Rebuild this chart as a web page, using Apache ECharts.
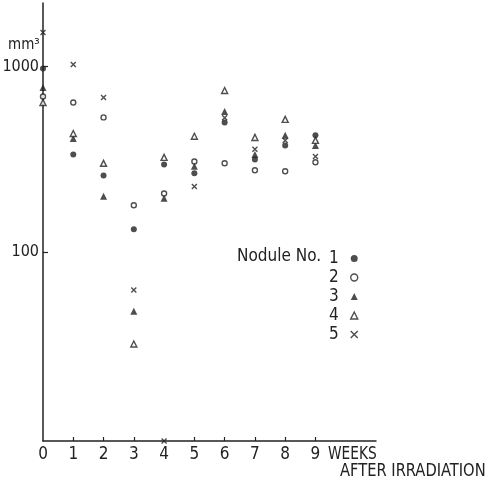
<!DOCTYPE html>
<html>
<head>
<meta charset="utf-8">
<script src="https://cdn.jsdelivr.net/npm/echarts@6/dist/echarts.min.js"></script>
<style>
html,body{margin:0;padding:0;background:#fff;}
#chart{width:486px;height:483px;}
</style>
</head>
<body>
<div id="chart"></div>
<script>
// ---- data (tumour volume, mm^3) ----
var weeks = [0, 1, 2, 3, 4, 5, 6, 7, 8, 9];
var nodule1 = [975, 336, 259, 133, 297, 266, 499, 316, 376, 426];   // ●
var nodule2 = [690, 640, 532, 179, 207, 308, 301, 276, 273, 305];   // ○
var nodule3 = [770, 410, 200, 48, 195, 290, 573, 336, 426, 376];    // ▲
var nodule4 = [640, 436, 301, 32, 324, 421, 743, 415, 519, 400];    // △
var nodule5 = [1525, 1025, 681, 62.5, 9.6, 226, 530, 358, 400, 328]; // × (week 4 on the axis)
var seriesNames = ['1', '2', '3', '4', '5'];
var xTickLabels = [0, 1, 2, 3, 4, 5, 6, 7, 8, 9];
var yTickLabels = [100, 1000];

var FONT = '"DejaVu Sans Condensed", "Liberation Sans Narrow", "Liberation Sans", sans-serif';
var INK = '#222';
var CROSS = 'path://M0,0L10,10M10,0L0,10';

function pts(arr) { return weeks.map(function (w, i) { return [w, arr[i]]; }); }

var styles = [
  { symbol: 'circle', size: 6, itemStyle: { color: INK } },
  { symbol: 'circle', size: 5, itemStyle: { color: '#fff', borderColor: INK, borderWidth: 1.4 } },
  { symbol: 'triangle', size: 7, itemStyle: { color: INK } },
  { symbol: 'triangle', size: 6, itemStyle: { color: '#fff', borderColor: INK, borderWidth: 1.4 } },
  { symbol: CROSS, size: 5, itemStyle: { color: 'none', borderColor: INK, borderWidth: 1.4 } }
];
var dataSets = [nodule1, nodule2, nodule3, nodule4, nodule5];

var series = dataSets.map(function (d, i) {
  return {
    name: seriesNames[i],
    type: 'scatter',
    clip: false,
    symbol: styles[i].symbol,
    symbolSize: styles[i].size,
    itemStyle: styles[i].itemStyle,
    emphasis: { disabled: true },
    data: pts(d),
    z: 5
  };
});

var chart = echarts.init(document.getElementById('chart'), null, { renderer: 'canvas' });
chart.setOption({
  backgroundColor: '#fff',
  animation: false,
  textStyle: { fontFamily: FONT },
  grid: { left: 43, right: 110, top: 3, bottom: 42, containLabel: false, outerBoundsMode: 'none' },
  xAxis: {
    type: 'value', min: 0, max: 11, interval: 1,
    axisLine: { show: true, onZero: false, lineStyle: { color: INK, width: 1.5 } },
    axisTick: { show: true, inside: true, length: 4, customValues: [1, 2, 3, 5, 6, 7, 8, 9], lineStyle: { color: INK, width: 1.2 } },
    axisLabel: { customValues: xTickLabels, color: INK, fontSize: 17, fontFamily: FONT, margin: 5 },
    splitLine: { show: false }
  },
  yAxis: {
    type: 'log', logBase: 10, min: 9.6, max: 2200,
    axisLine: { show: true, onZero: false, lineStyle: { color: INK, width: 1.5 } },
    axisTick: { show: true, inside: true, length: 5, customValues: yTickLabels, lineStyle: { color: INK, width: 1.2 } },
    axisLabel: {
      color: INK, fontSize: 16, fontFamily: FONT, margin: 4,
      showMinLabel: false, showMaxLabel: false,
      formatter: function (v) { var r = Math.round(v); return yTickLabels.indexOf(r) >= 0 ? String(r) : ''; }
    },
    splitLine: { show: false }
  },
  legend: {
    orient: 'vertical', align: 'right',
    left: 324, top: 244,
    itemGap: 0, itemWidth: 7, itemHeight: 7,
    selectedMode: false,
    textStyle: { color: INK, fontSize: 17, fontFamily: FONT, lineHeight: 19, padding: [0, 7, 0, 0] },
    data: seriesNames.map(function (n, i) {
      return { name: n, icon: styles[i].symbol, itemStyle: styles[i].itemStyle };
    })
  },
  graphic: [
    { type: 'text', left: 8, top: 38, style: { text: 'mm³', fill: INK, font: '15px ' + FONT } },
    { type: 'text', left: 237, top: 248, style: { text: 'Nodule No.', fill: INK, font: '17px ' + FONT } },
    { type: 'text', left: 328, top: 446, scaleX: 0.9, style: { text: 'WEEKS', fill: INK, font: '17px ' + FONT } },
    { type: 'text', left: 340, top: 463, scaleX: 0.96, style: { text: 'AFTER IRRADIATION', fill: INK, font: '17px ' + FONT } }
  ],
  series: series
});
</script>
</body>
</html>
